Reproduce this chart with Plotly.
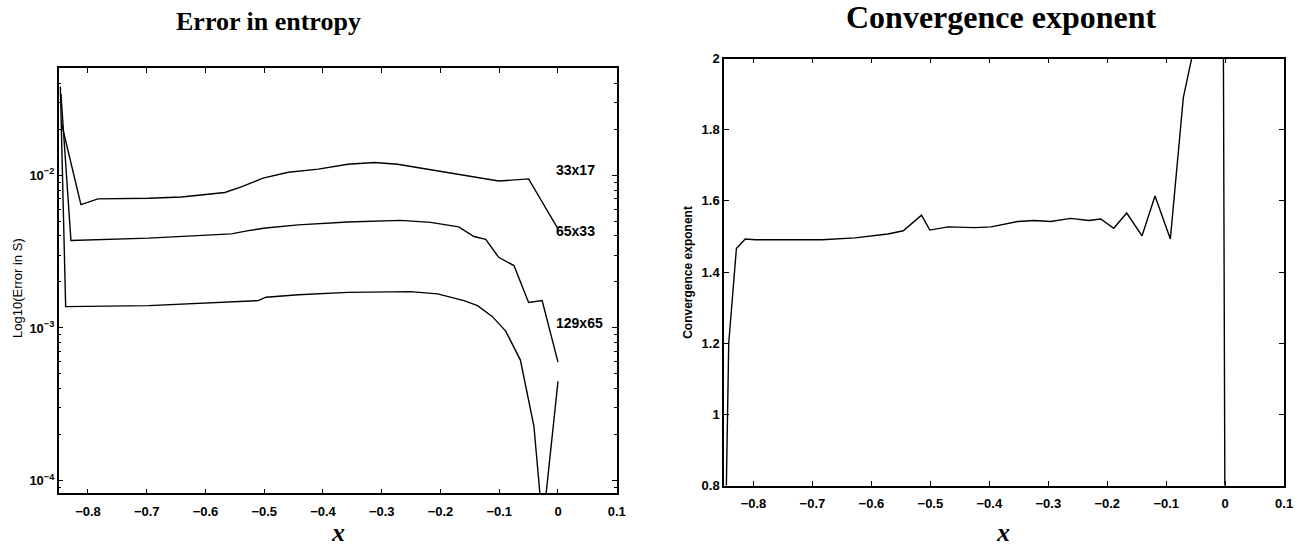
import math
import plotly.graph_objects as go

# ---- Left panel: error in entropy (log scale) ----
x_33 = [-0.845, -0.812, -0.783, -0.697, -0.641, -0.567, -0.539, -0.502, -0.459, -0.408,
        -0.358, -0.312, -0.273, -0.222, -0.143, -0.101, -0.050, 0.0]
e_33 = [0.0218, 0.00641, 0.00700, 0.00706, 0.00720, 0.00771, 0.00839, 0.00957, 0.01045, 0.01096,
        0.01180, 0.01211, 0.01180, 0.01096, 0.00982, 0.00916, 0.00946, 0.00445]

x_65 = [-0.846, -0.829, -0.697, -0.641, -0.556, -0.527, -0.498, -0.442, -0.358, -0.268,
        -0.217, -0.169, -0.143, -0.123, -0.101, -0.075, -0.050, -0.027, 0.0]
e_65 = [0.0340, 0.00374, 0.00387, 0.00397, 0.00413, 0.00434, 0.00451, 0.00473, 0.00494, 0.00506,
        0.00491, 0.00459, 0.00397, 0.00380, 0.00290, 0.00256, 0.00147, 0.00151, 0.000598]

x_129 = [-0.847, -0.838, -0.697, -0.641, -0.527, -0.510, -0.497, -0.442, -0.358, -0.273,
         -0.251, -0.205, -0.160, -0.137, -0.112, -0.089, -0.064, -0.041, -0.026, 0.0]
e_129 = [0.0380, 0.00138, 0.00140, 0.00143, 0.00149, 0.00151, 0.00159, 0.00165, 0.00171, 0.00174,
         0.00173, 0.00167, 0.00151, 0.00140, 0.00119, 0.000953, 0.000616, 0.000228, 0.0000509, 0.000447]

grid_labels = ["33x17", "65x33", "129x65"]
label_y = [0.01076, 0.00434, 0.001076]

# ---- Right panel: convergence exponent ----
x_conv = [-0.847, -0.842, -0.829, -0.814, -0.797, -0.684, -0.628, -0.572, -0.546, -0.515,
          -0.501, -0.470, -0.425, -0.397, -0.352, -0.324, -0.296, -0.262, -0.231, -0.211,
          -0.189, -0.167, -0.141, -0.119, -0.093, -0.071, -0.050, -0.025, -0.004, 0.0]
p_conv = [0.70, 1.20, 1.466, 1.493, 1.491, 1.491, 1.496, 1.507, 1.516, 1.560,
          1.518, 1.527, 1.525, 1.527, 1.542, 1.545, 1.542, 1.551, 1.545, 1.549,
          1.523, 1.566, 1.502, 1.614, 1.493, 1.890, 2.054, 2.300, 2.500, 0.50]

x_ticks = [-0.8, -0.7, -0.6, -0.5, -0.4, -0.3, -0.2, -0.1, 0, 0.1]
x_ticktext = ["\u22120.8", "\u22120.7", "\u22120.6", "\u22120.5", "\u22120.4", "\u22120.3",
              "\u22120.2", "\u22120.1", "0", "0.1"]
log_ticks = [1e-4, 1e-3, 1e-2]
log_ticktext = ["10<sup>\u22124</sup>", "10<sup>\u22123</sup>", "10<sup>\u22122</sup>"]
log_minor = [m * 10.0 ** k for k in (-5, -4, -3, -2, -1) for m in range(2, 10)]
conv_ticks = [0.8, 1, 1.2, 1.4, 1.6, 1.8, 2]
conv_ticktext = ["0.8", "1", "1.2", "1.4", "1.6", "1.8", "2"]

fig = go.Figure()
line = dict(color="black", width=1.4)
for xs, ys in ((x_33, e_33), (x_65, e_65), (x_129, e_129)):
    fig.add_trace(go.Scatter(x=xs, y=ys, mode="lines", line=line, xaxis="x", yaxis="y",
                             showlegend=False, hoverinfo="skip"))
fig.add_trace(go.Scatter(x=x_conv, y=p_conv, mode="lines", line=line, xaxis="x2", yaxis="y2",
                         showlegend=False, hoverinfo="skip"))

sans = "Liberation Sans, Arial, sans-serif"
serif = "Liberation Serif, Times New Roman, serif"
tickfont = dict(family=sans, size=13, color="black", weight="bold")
axcommon = dict(showline=True, linecolor="black", linewidth=1.5, mirror="ticks", ticks="inside",
                ticklen=5, tickwidth=1, tickcolor="black", showgrid=False, zeroline=False,
                tickfont=tickfont)

fig.update_layout(
    width=1315, height=550,
    margin=dict(l=0, r=0, t=0, b=0),
    paper_bgcolor="white", plot_bgcolor="white",
    xaxis=dict(domain=[59 / 1315, 621 / 1315], range=[-0.85, 0.1], anchor="y",
               tickmode="array", tickvals=x_ticks, ticktext=x_ticktext, ticklabelstandoff=5,
               **axcommon),
    yaxis=dict(domain=[50 / 550, 487 / 550], type="log", range=[-4.083, -1.30], anchor="x",
               tickmode="array", tickvals=log_ticks, ticktext=log_ticktext,
               minor=dict(tickmode="array", tickvals=log_minor, ticks="inside", ticklen=3,
                          tickcolor="black"),
               **axcommon),
    xaxis2=dict(domain=[729 / 1315, 1293 / 1315], range=[-0.85, 0.1], anchor="y2",
                tickmode="array", tickvals=x_ticks, ticktext=x_ticktext, ticklabelstandoff=5,
                **axcommon),
    yaxis2=dict(domain=[58 / 550, 497 / 550], range=[0.8, 2.0], anchor="x2",
                tickmode="array", tickvals=conv_ticks, ticktext=conv_ticktext, **axcommon),
)

ann = []
ann.append(dict(text="<b>Error in entropy</b>", xref="paper", yref="paper", x=270 / 1315,
                y=1 - 15 / 550, xanchor="center", yanchor="middle", showarrow=False,
                font=dict(family=serif, size=26, color="black")))
ann.append(dict(text="<b>Convergence exponent</b>", xref="paper", yref="paper", x=1008 / 1315,
                y=1 - 10 / 550, xanchor="center", yanchor="middle", showarrow=False,
                font=dict(family=serif, size=32, color="black")))
for xc in (340, 1010):
    ann.append(dict(text="<b><i>x</i></b>", xref="paper", yref="paper", x=xc / 1315,
                    y=1 - 540 / 550, xanchor="center", yanchor="middle", showarrow=False,
                    font=dict(family=serif, size=26, color="black")))
ann.append(dict(text="Log10(Error in S)", xref="paper", yref="paper", x=17 / 1315, y=1 - 289 / 550,
                xanchor="center", yanchor="middle", textangle=-90, showarrow=False,
                font=dict(family=sans, size=13, color="black")))
ann.append(dict(text="<b>Convergence exponent</b>", xref="paper", yref="paper", x=692 / 1315,
                y=1 - 273 / 550, xanchor="center", yanchor="middle", textangle=-90, showarrow=False,
                font=dict(family=sans, size=12, color="black")))
for lab, ly in zip(grid_labels, label_y):
    ann.append(dict(text="<b>" + lab + "</b>", xref="x", yref="y", x=-0.006, y=math.log10(ly),
                    xanchor="left", yanchor="middle", showarrow=False,
                    font=dict(family=sans, size=14, color="black")))
fig.update_layout(annotations=ann)

fig.write_html("out.html")
